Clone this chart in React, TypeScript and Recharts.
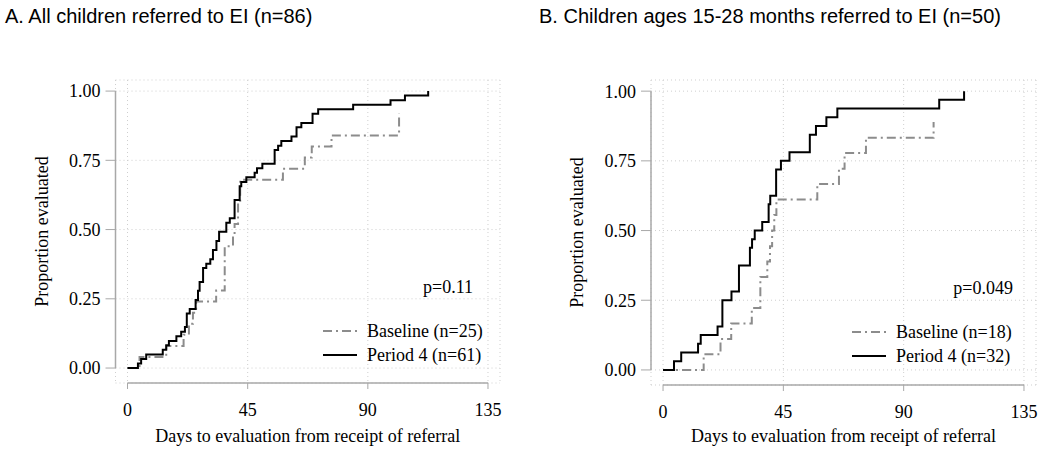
import { LineChart, Line, XAxis, YAxis, CartesianGrid, ReferenceLine } from "recharts";

// Kaplan-Meier style step curves
const daysA_base = [0, 4.5, 14.5, 21.0, 23.0, 24.5, 25.7, 33.2, 36.4, 39.5, 40.1, 41.4, 42.2, 58.2, 66.4, 69.0, 76.4, 101.7];
const propA_base = [0, 0.04, 0.08, 0.12, 0.16, 0.2, 0.24, 0.28, 0.44, 0.48, 0.52, 0.6, 0.68, 0.72, 0.76, 0.8, 0.84, 0.92];

const daysA_p4 = [0, 3.9, 5.1, 7.0, 13.2, 14.5, 15.5, 18.3, 20.1, 21.5, 22.2, 23.3, 25.5, 26.4, 27.0, 28.3, 29.5, 31.0, 32.0, 33.3, 34.3, 37.0, 38.3, 40.1, 42.0, 42.6, 44.5, 47.6, 48.5, 50.5, 55.1, 56.4, 57.6, 61.4, 63.3, 65.1, 69.3, 71.4, 84.5, 98.5, 103.9, 112.6];
const propA_p4 = [0, 0.016, 0.033, 0.049, 0.066, 0.082, 0.098, 0.115, 0.131, 0.148, 0.197, 0.213, 0.246, 0.279, 0.311, 0.361, 0.377, 0.393, 0.426, 0.459, 0.492, 0.525, 0.541, 0.607, 0.656, 0.672, 0.689, 0.705, 0.721, 0.738, 0.787, 0.803, 0.82, 0.836, 0.869, 0.885, 0.918, 0.934, 0.951, 0.967, 0.984, 1.0];

const daysB_base = [0, 15.2, 21.5, 25.5, 33.2, 36.4, 39.0, 40.0, 40.8, 41.6, 42.4, 57.7, 65.8, 67.9, 75.9, 101.2];
const propB_base = [0, 0.056, 0.111, 0.167, 0.222, 0.333, 0.389, 0.444, 0.5, 0.556, 0.611, 0.667, 0.722, 0.778, 0.833, 0.889];

const daysB_p4 = [0, 4.1, 6.8, 13.1, 14.1, 20.4, 22.2, 25.6, 28.4, 32.5, 33.3, 34.3, 37.1, 39.5, 40.1, 42.3, 44.1, 47.3, 54.9, 57.2, 61.1, 65.2, 103.3, 112.6];
const propB_p4 = [0, 0.031, 0.063, 0.094, 0.125, 0.156, 0.25, 0.281, 0.375, 0.438, 0.469, 0.5, 0.531, 0.594, 0.625, 0.719, 0.75, 0.781, 0.844, 0.875, 0.906, 0.938, 0.969, 1.0];

const xTicks = [0, 45, 90, 135];
const yTicks = [0, 0.25, 0.5, 0.75, 1];

const serif = '"Liberation Serif", "Times New Roman", serif';
const sans = '"Liberation Sans", Arial, sans-serif';
const axisGray = "#a8a8a8";
const baseColor = "#8c8c8c";
const baseDash = "9 4 2 4";
const X_MIN = -4.5;
const X_MAX = 139.5;
const Y_MIN = -0.054;
const Y_MAX = 1.04;

const toRows = (days: number[], vals: number[]) => days.map((d, i) => ({ day: d, value: vals[i] }));

function KmLegend({ items, left, top }: { items: { label: string; color: string; dash?: string }[]; left: number; top: number }) {
  return (
    <div style={{ position: "absolute", left, top, fontFamily: serif, fontSize: 18, color: "#000" }}>
      {items.map((it) => (
        <div key={it.label} style={{ display: "flex", alignItems: "center", height: 24 }}>
          <svg width={34} height={4}>
            <line x1={0} y1={2} x2={34} y2={2} stroke={it.color} strokeWidth={2} strokeDasharray={it.dash} />
          </svg>
          <span style={{ marginLeft: 10, whiteSpace: "nowrap" }}>{it.label}</span>
        </div>
      ))}
    </div>
  );
}

interface PanelProps {
  left: number;
  width: number;
  marginLeft: number;
  marginRight: number;
  axisHeight: number;
  title: string;
  titleLeft: number;
  base: { day: number; value: number }[];
  p4: { day: number; value: number }[];
  baseLabel: string;
  p4Label: string;
  pValue: string;
  pRight: number;
  pTop: number;
  legendLeft: number;
  legendTop: number;
}

function Panel(p: PanelProps) {
  return (
    <div style={{ position: "absolute", left: p.left, top: 0, width: p.width, height: 453 }}>
      <div style={{ position: "absolute", left: p.titleLeft, top: 5, fontFamily: sans, fontSize: 20, lineHeight: "22px", whiteSpace: "nowrap" }}>
        {p.title}
      </div>
      <LineChart
        width={p.width}
        height={453}
        margin={{ top: 80, right: p.marginRight, bottom: 10, left: p.marginLeft }}
      >
        <CartesianGrid stroke="#cfcfcf" strokeDasharray="1 3" />
        <XAxis
          type="number"
          dataKey="day"
          domain={[X_MIN, X_MAX]}
          ticks={xTicks}
          allowDataOverflow
          axisLine={false}
          tickLine={{ stroke: axisGray }}
          tickSize={6}
          tickMargin={14}
          height={p.axisHeight}
          tick={{ fontSize: 18, fill: "#000", fontFamily: serif }}
          label={{ value: "Days to evaluation from receipt of referral", position: "insideBottom", offset: 1, fontSize: 18, fill: "#000", fontFamily: serif }}
        />
        <YAxis
          type="number"
          domain={[Y_MIN, Y_MAX]}
          ticks={yTicks}
          allowDataOverflow
          axisLine={false}
          tickLine={{ stroke: axisGray }}
          tickSize={10}
          tickMargin={5}
          width={100}
          tickFormatter={(v: number) => v.toFixed(2)}
          tick={{ fontSize: 18, fill: "#000", fontFamily: serif }}
          label={{ value: "Proportion evaluated", angle: -90, position: "insideLeft", offset: 26, fontSize: 18, fill: "#000", fontFamily: serif, style: { textAnchor: "middle" } }}
        />
        <ReferenceLine segment={[{ x: 0, y: Y_MIN }, { x: 135, y: Y_MIN }]} stroke={axisGray} strokeWidth={1.5} ifOverflow="visible" />
        <ReferenceLine segment={[{ x: X_MIN, y: 0 }, { x: X_MIN, y: 1 }]} stroke={axisGray} strokeWidth={1.5} ifOverflow="visible" />
        <Line
          data={p.base}
          dataKey="value"
          name={p.baseLabel}
          type="stepAfter"
          stroke={baseColor}
          strokeWidth={2}
          strokeDasharray={baseDash}
          dot={false}
          isAnimationActive={false}
        />
        <Line
          data={p.p4}
          dataKey="value"
          name={p.p4Label}
          type="stepAfter"
          stroke="#000"
          strokeWidth={2}
          dot={false}
          isAnimationActive={false}
        />
      </LineChart>
      <KmLegend
        left={p.legendLeft}
        top={p.legendTop}
        items={[
          { label: p.baseLabel, color: baseColor, dash: baseDash },
          { label: p.p4Label, color: "#000" },
        ]}
      />
      <div style={{ position: "absolute", right: p.width - p.pRight, top: p.pTop, fontFamily: serif, fontSize: 18, lineHeight: "20px" }}>
        {p.pValue}
      </div>
    </div>
  );
}

export default function App() {
  return (
    <div style={{ position: "absolute", left: 0, top: 0, width: 1050, height: 453, background: "#fff" }}>
      <Panel
        left={0}
        width={525}
        marginLeft={15.5}
        marginRight={25}
        axisHeight={60}
        title="A. All children referred to EI (n=86)"
        titleLeft={5}
        base={toRows(daysA_base, propA_base)}
        p4={toRows(daysA_p4, propA_p4)}
        baseLabel="Baseline (n=25)"
        p4Label="Period 4 (n=61)"
        pValue="p=0.11"
        pRight={473}
        pTop={277}
        legendLeft={323}
        legendTop={319}
      />
      <Panel
        left={535}
        width={515}
        marginLeft={16}
        marginRight={14}
        axisHeight={58}
        title="B. Children ages 15-28 months referred to EI (n=50)"
        titleLeft={4}
        base={toRows(daysB_base, propB_base)}
        p4={toRows(daysB_p4, propB_p4)}
        baseLabel="Baseline (n=18)"
        p4Label="Period 4 (n=32)"
        pValue="p=0.049"
        pRight={478}
        pTop={278}
        legendLeft={317}
        legendTop={320}
      />
    </div>
  );
}
